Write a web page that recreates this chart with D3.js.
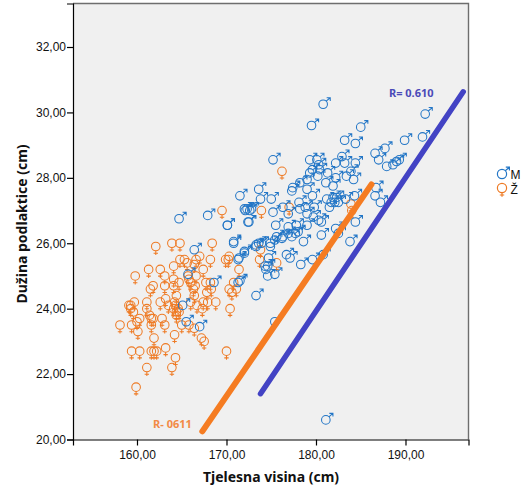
<!DOCTYPE html>
<html><head><meta charset="utf-8">
<script src="https://cdn.jsdelivr.net/npm/d3@7"></script>
<style>html,body{margin:0;padding:0;background:#fff}svg{display:block}</style>
</head><body><div id="c"></div>
<script>
const xTicks=[160,170,180,190];
const yTicks=[20,22,24,26,28,30,32];
const xTitle="Tjelesna visina (cm)";
const yTitle="Dužina podlaktice (cm)";
const legendLabels=["M","Ž"];
const femalePoints=[[169.5,27.0],[162.1,25.9],[163.9,26.0],[164.8,26.0],[168.4,26.0],[164.8,25.5],[165.3,25.5],[164.1,25.3],[161.3,25.2],[162.6,25.2],[159.8,25.0],[163.1,25.0],[166.6,25.5],[167.0,25.6],[165.6,25.4],[166.4,25.35],[167.4,25.2],[168.2,25.5],[169.9,25.5],[170.3,25.6],[170.2,25.5],[171.4,25.2],[164.1,24.9],[165.7,25.0],[164.7,24.8],[163.1,24.7],[161.8,24.7],[161.5,24.6],[164.1,24.7],[166.0,24.8],[166.6,25.0],[166.5,24.7],[167.7,24.8],[168.2,24.8],[168.3,24.6],[167.8,24.5],[170.8,24.8],[170.3,24.6],[171.1,24.6],[170.6,24.5],[164.4,24.4],[163.2,24.3],[162.6,24.2],[161.1,24.2],[159.7,24.2],[159.1,24.1],[159.3,24.1],[159.3,24.0],[161.1,24.0],[163.5,24.1],[164.2,24.2],[164.3,24.1],[164.4,23.9],[164.4,23.8],[166.0,24.2],[166.7,24.1],[167.4,24.2],[167.9,24.2],[168.8,24.2],[167.3,24.0],[170.4,24.0],[160.3,23.7],[160.0,23.6],[159.4,23.5],[158.1,23.5],[160.1,23.3],[161.4,23.8],[161.6,23.7],[161.8,23.7],[161.6,23.5],[162.8,23.7],[163.1,23.5],[165.0,23.5],[164.2,23.2],[165.8,23.5],[166.4,23.4],[167.2,23.1],[167.5,23.0],[161.9,23.1],[159.4,22.7],[160.3,22.7],[161.6,22.7],[161.9,22.7],[162.2,22.7],[163.2,22.8],[164.3,22.5],[163.9,22.2],[161.1,22.2],[170.0,22.7],[159.9,21.6],[173.8,25.8],[173.7,25.5],[175.6,25.4],[176.2,28.2],[173.9,27.0],[177.0,27.1],[183.9,27.2],[184.0,27.0],[165.8,24.9],[166.3,24.6],[166.4,24.4],[164.6,24.0],[164.7,23.9],[164.1,24.0],[159.6,23.9]];
const malePoints=[[164.7,26.75],[167.9,26.85],[170.1,26.55],[170.8,26.0],[166.4,25.8],[171.3,25.5],[165.7,25.05],[168.6,24.8],[171.3,24.8],[165.1,24.1],[165.5,23.6],[167.0,23.45],[172.0,25.75],[172.1,27.0],[172.6,27.0],[172.5,26.65],[173.3,25.9],[173.6,26.0],[171.5,24.85],[173.3,24.4],[180.8,30.25],[179.5,29.6],[185.0,29.55],[183.2,29.15],[184.4,29.05],[186.6,28.75],[187.7,28.9],[187.0,28.55],[187.9,28.35],[188.6,28.4],[189.0,28.5],[175.2,28.55],[179.3,28.55],[180.1,28.55],[180.3,28.4],[179.6,28.25],[179.3,28.15],[180.4,28.25],[180.2,28.05],[181.3,28.15],[182.2,28.45],[182.9,28.65],[183.2,28.45],[184.4,28.45],[183.9,28.2],[183.4,28.05],[184.2,27.95],[182.2,28.0],[181.1,27.85],[181.9,27.75],[179.0,27.95],[178.2,27.85],[177.4,27.7],[177.3,27.6],[179.0,27.65],[179.6,27.45],[173.6,27.65],[171.5,27.45],[173.8,27.35],[175.0,27.35],[172.0,27.05],[172.3,27.05],[172.8,27.05],[175.2,26.95],[176.3,27.1],[176.9,26.9],[178.1,27.25],[178.2,27.05],[178.8,27.1],[179.0,26.9],[179.8,27.1],[179.7,26.8],[180.3,26.7],[180.6,26.65],[181.2,27.35],[181.9,27.4],[182.3,27.4],[181.7,27.25],[182.1,27.25],[182.5,27.25],[181.5,27.1],[183.3,27.35],[184.3,27.45],[186.7,27.7],[186.6,27.45],[187.2,27.25],[184.4,26.65],[182.2,26.45],[182.5,26.3],[180.6,26.25],[178.6,26.05],[183.8,26.05],[172.4,26.65],[170.1,26.55],[170.8,26.05],[175.5,26.55],[176.9,26.5],[177.8,26.55],[178.0,26.35],[176.9,26.3],[177.7,26.3],[177.3,26.2],[176.3,26.2],[176.2,26.15],[175.6,26.2],[175.4,26.1],[174.9,26.0],[174.9,25.9],[173.9,26.0],[173.3,25.95],[172.0,25.7],[171.4,25.55],[179.0,26.55],[174.7,25.55],[174.3,25.3],[176.7,25.65],[177.1,25.55],[178.3,25.35],[179.6,25.5],[180.8,25.65],[174.6,25.3],[174.4,25.2],[174.6,25.0],[175.4,25.05],[175.4,23.6],[189.9,29.15],[191.9,29.25],[192.2,29.95],[189.3,28.55],[181.1,20.6]];
const femaleLine=[[167.3,20.25],[186.2,27.8]];
const maleLine=[[173.8,21.4],[196.45,30.63]];
const lineLabels=[{text:"R= 0.610",h:188.15,f:30.48,color:"#4a4ab8"},{text:"R- 0611",h:161.8,f:20.35,color:"#f28a45"}];

const W=532,H=500;
const FEMALE="#ee7a24",MALE="#2376c6";
const svg=d3.select("#c").append("svg").attr("width",W).attr("height",H);
const x=d3.scaleLinear().domain([152.85,197.04]).range([73,468.5]);
const y=d3.scaleLinear().domain([20,33.33]).range([439.5,3.5]);
const fmt=v=>v.toFixed(2).replace(".",",");

svg.append("rect").attr("x",73).attr("y",3.5).attr("width",395.5).attr("height",436).attr("fill","#f0f0f0");
svg.append("path").attr("d","M73,3.5H468.5V439.5").attr("fill","none").attr("stroke","#6e6e6e").attr("stroke-width",1.4);

function styleAxis(g){
  g.selectAll("text").attr("font-family","'Liberation Sans',Arial,sans-serif").attr("font-size",12).attr("fill","#111");
  g.selectAll("line,.domain").attr("stroke","#000").attr("stroke-width",1.2);
}
svg.append("g").attr("transform","translate(0,439.5)")
  .call(d3.axisBottom(x).tickValues(xTicks).tickFormat(fmt).tickSizeOuter(0).tickSize(6).tickPadding(5)).call(styleAxis);
svg.append("g").attr("transform","translate(73,0)")
  .call(d3.axisLeft(y).tickValues(yTicks).tickFormat(fmt).tickSizeOuter(0).tickSize(6).tickPadding(1)).call(styleAxis);

function female(g,r){
  g.append("circle").attr("r",r);
  g.append("path").attr("d",`M0,${r}V${r+4.2}M-2.2,${r+2.4}H2.2`);
}
function male(g,r){
  const a=r*0.707,tx=r+2.8,ty=r+2.2;
  g.append("circle").attr("r",r);
  g.append("path").attr("d",`M${a},${-a}L${tx},${-ty}M${tx-3.6},${-ty}H${tx}V${-ty+3.2}`);
}
function draw(data,color,fn){
  const g=svg.append("g").attr("fill","none").attr("stroke",color).attr("stroke-width",1.05);
  g.selectAll("g").data(data).join("g")
    .attr("transform",d=>`translate(${x(d[0])},${y(d[1])})`)
    .each(function(){fn(d3.select(this),4.3);});
}
draw(femalePoints,FEMALE,female);
draw(malePoints,MALE,male);

const ln=d3.line().x(d=>x(d[0])).y(d=>y(d[1]));
svg.append("path").datum(maleLine).attr("d",ln).attr("fill","none").attr("stroke","#4343c4").attr("stroke-width",5.5).attr("stroke-linecap","round");
svg.append("path").datum(femaleLine).attr("d",ln).attr("fill","none").attr("stroke","#f57c22").attr("stroke-width",6).attr("stroke-linecap","round");

svg.selectAll(".rl").data(lineLabels).join("text").attr("class","rl")
  .attr("x",d=>x(d.h)).attr("y",d=>y(d.f)).attr("fill",d=>d.color)
  .attr("font-family","'Noto Sans',Verdana,sans-serif").attr("font-weight","bold").attr("font-size",11)
  .text(d=>d.text);

svg.append("text").attr("x",271).attr("y",482).attr("text-anchor","middle")
  .attr("font-family","'Noto Sans',Verdana,sans-serif").attr("font-weight","bold").attr("font-size",14).attr("fill","#111").text(xTitle);
svg.append("text").attr("transform","translate(27,224) rotate(-90)").attr("text-anchor","middle")
  .attr("font-family","'Noto Sans',Verdana,sans-serif").attr("font-weight","bold").attr("font-size",14).attr("fill","#111").text(yTitle);

const lg=svg.append("g");
const lm=lg.append("g").attr("transform","translate(502,174)").attr("fill","none").attr("stroke",MALE).attr("stroke-width",1.2);male(lm,4.6);
const lf=lg.append("g").attr("transform","translate(502,188)").attr("fill","none").attr("stroke",FEMALE).attr("stroke-width",1.2);female(lf,4.6);
lg.selectAll("text").data(legendLabels).join("text").attr("x",510.5).attr("y",(d,i)=>179+i*14.5)
  .attr("font-family","'Liberation Sans',Arial,sans-serif").attr("font-size",12).attr("fill","#111").text(d=>d);
</script></body></html>
